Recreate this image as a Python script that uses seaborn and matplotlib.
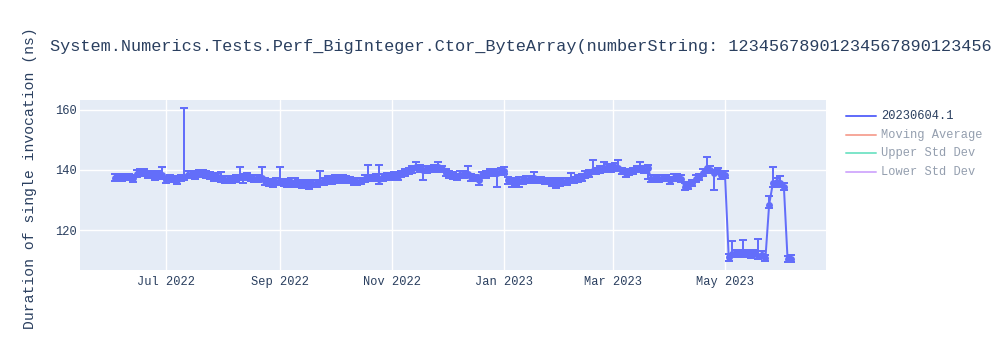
import matplotlib
matplotlib.use("Agg")
import matplotlib.pyplot as plt
import matplotlib.dates as mdates
from matplotlib.lines import Line2D
import numpy as np
import pandas as pd
import seaborn as sns

# ---------------- data ----------------
title = "System.Numerics.Tests.Perf_BigInteger.Ctor_ByteArray(numberString: 12345678901234567890123456"
y_label = "Duration of single invocation (ns)"
series_name = "20230604.1"
legend_labels = ["20230604.1", "Moving Average", "Upper Std Dev", "Lower Std Dev"]
start_date = "2022-06-03"
step = "2D"

values = [
    137.4, 137.6, 137.2, 137.8, 137.5, 137.3, 138.8, 139.2, 139.0, 138.6,
    138.4, 138.0, 138.5, 138.2, 136.8, 137.2, 137.0, 136.5, 137.3, 137.8,
    138.3, 138.5, 138.0, 139.0, 138.8, 138.5, 138.0, 137.5, 137.8, 137.2,
    136.8, 137.0, 136.5, 137.2, 137.7, 137.5, 137.8, 137.4, 137.0, 137.3,
    137.2, 136.3, 135.8, 135.6, 136.0, 136.2, 135.8, 135.5, 136.0, 135.7,
    135.4, 135.2, 135.5, 135.0, 135.3, 135.6, 136.0, 136.3, 136.8, 136.5,
    137.0, 136.8, 137.2, 137.0, 136.6, 136.2, 136.0, 136.4, 137.0, 137.6,
    137.2, 137.5, 137.0, 137.6, 137.8, 137.9, 138.2, 138.0, 138.6, 139.2,
    139.6, 140.2, 141.0, 140.5, 140.0, 140.3, 140.2, 140.6, 141.0, 140.4,
    139.0, 138.5, 138.0, 137.8, 138.3, 138.5, 138.5, 137.5, 137.2, 136.8,
    138.2, 138.6, 139.0, 139.3, 139.0, 139.5, 139.8, 136.5, 136.2, 136.0,
    136.3, 136.5, 136.8, 137.0, 137.2, 136.8, 136.6, 136.4, 136.2, 136.0,
    136.0, 136.0, 136.1, 136.3, 136.5, 136.8, 137.0, 137.5, 138.3, 139.0,
    139.5, 139.8, 140.0, 140.5, 140.8, 140.5, 141.0, 140.8, 139.5, 139.0,
    139.2, 139.8, 140.2, 140.5, 140.0, 140.5, 137.0, 137.3, 137.0, 137.4,
    137.2, 136.8, 137.3, 137.5, 137.0, 134.5, 134.8, 135.8, 137.0, 137.8,
    139.0, 140.5, 140.0, 139.0, 139.5, 138.3, 138.3, 111.0, 112.0, 112.3,
    112.0, 112.5, 112.0, 111.8, 112.2, 111.5, 111.8, 110.8, 128.5, 135.5,
    136.0, 135.5, 134.5, 110.5, 110.5,
]

err_up = [
    1.2, 1.0, 1.2, 1.0, 1.2, 1.0, 1.2, 1.0, 1.2, 1.0,
    1.2, 1.0, 1.2, 2.8, 1.0, 1.2, 1.0, 1.2, 1.0, 22.7,
    1.2, 1.0, 1.2, 1.0, 1.2, 1.0, 1.2, 1.0, 1.2, 2.0,
    1.2, 1.0, 1.2, 1.0, 3.3, 1.0, 1.2, 1.0, 1.2, 1.0,
    3.8, 1.0, 1.2, 1.0, 1.2, 4.8, 1.2, 1.0, 1.2, 1.6,
    1.2, 1.0, 1.2, 1.0, 1.2, 1.0, 3.7, 1.0, 1.2, 1.0,
    1.2, 1.0, 1.2, 1.0, 1.2, 1.0, 1.2, 1.0, 1.2, 4.1,
    1.2, 1.0, 4.7, 1.0, 1.2, 1.0, 1.2, 1.0, 1.2, 1.0,
    1.2, 1.0, 1.8, 1.0, 1.2, 1.0, 1.2, 1.0, 1.5, 1.0,
    1.2, 1.0, 1.2, 1.0, 1.2, 1.0, 2.8, 1.0, 1.2, 1.0,
    1.2, 1.0, 1.2, 1.0, 1.2, 1.0, 1.2, 1.0, 1.2, 1.0,
    1.2, 1.0, 1.2, 1.0, 2.0, 1.0, 1.2, 1.0, 1.2, 1.0,
    1.2, 1.0, 1.2, 1.0, 2.5, 1.0, 1.2, 1.0, 1.2, 1.0,
    3.8, 1.0, 1.2, 2.0, 1.2, 1.0, 1.2, 2.5, 1.2, 1.0,
    1.2, 1.0, 1.2, 2.3, 1.2, 1.0, 1.2, 1.0, 1.2, 1.0,
    1.2, 1.0, 1.2, 1.0, 1.2, 1.0, 1.2, 1.0, 1.2, 1.0,
    1.2, 3.8, 1.2, 1.0, 1.2, 1.0, 1.2, 1.0, 4.5, 1.0,
    1.2, 4.2, 1.2, 1.0, 1.2, 5.5, 1.2, 1.0, 2.7, 5.5,
    1.2, 2.5, 1.2, 1.0, 1.2,
]

err_down = [
    1.0, 1.2, 1.0, 1.2, 1.0, 1.2, 1.0, 1.2, 1.0, 1.2,
    1.0, 1.2, 1.0, 1.2, 1.3, 1.2, 1.0, 1.2, 1.0, 1.2,
    1.0, 1.2, 1.0, 1.2, 1.0, 1.2, 1.0, 1.2, 1.0, 1.2,
    1.0, 1.2, 1.0, 1.2, 1.0, 2.0, 1.0, 1.2, 1.0, 1.2,
    1.0, 1.2, 1.0, 1.2, 1.0, 1.2, 1.0, 1.2, 1.0, 1.2,
    1.0, 1.2, 1.0, 1.2, 1.0, 1.2, 1.0, 1.2, 1.0, 1.2,
    1.0, 1.2, 1.0, 1.2, 1.0, 1.2, 1.0, 1.2, 1.0, 1.2,
    1.0, 1.2, 1.7, 1.2, 1.0, 1.2, 1.0, 1.2, 1.0, 1.2,
    1.0, 1.2, 1.0, 1.2, 3.5, 1.2, 1.0, 1.2, 1.0, 1.2,
    1.0, 1.2, 1.0, 1.2, 1.0, 1.2, 1.0, 1.2, 1.0, 1.8,
    1.0, 1.2, 1.0, 1.2, 4.7, 1.2, 1.0, 1.2, 2.0, 1.2,
    2.0, 1.2, 1.0, 1.2, 1.0, 1.2, 1.0, 1.2, 1.0, 1.2,
    2.0, 1.2, 1.0, 1.2, 1.0, 1.2, 1.0, 1.2, 1.0, 1.2,
    1.0, 1.2, 1.0, 1.2, 1.0, 1.2, 1.0, 1.2, 1.0, 1.2,
    1.0, 1.2, 1.0, 1.2, 1.0, 3.5, 1.0, 1.2, 1.0, 1.2,
    1.0, 1.4, 1.0, 1.2, 1.0, 1.2, 1.0, 1.2, 1.0, 1.2,
    1.0, 1.2, 1.0, 5.7, 1.0, 1.2, 1.0, 1.2, 1.0, 1.2,
    1.0, 1.2, 1.0, 1.2, 1.0, 1.2, 1.0, 1.2, 1.0, 1.2,
    1.0, 1.2, 1.0, 1.2, 1.0,
]

y_ticks = [120, 140, 160]
x_range = ("2022-05-15 05:00", "2023-06-24 22:00")
y_range = (106.67, 163.33)

# ---------------- style ----------------
BLUE = "#636efa"
FONT_COLOR = "#2a3f5f"
sns.set_theme(style="darkgrid", rc={
    "axes.facecolor": "#E5ECF6",
    "grid.color": "white",
    "grid.linewidth": 1.0,
    "figure.facecolor": "white",
})
plt.rcParams["font.family"] = ["Liberation Mono", "DejaVu Sans"]

W, H = 1000, 350
fig = plt.figure(figsize=(W / 100, H / 100), dpi=100)
L, R, T, B = 80, 826, 100, 270
ax = fig.add_axes([L / W, 1 - B / H, (R - L) / W, (B - T) / H])

dates = pd.date_range(start_date, periods=len(values), freq=step)
df = pd.DataFrame({"date": dates, "value": values})

ax.errorbar(df["date"], df["value"], yerr=[err_down, err_up], fmt="none",
            ecolor=BLUE, elinewidth=1.44, capsize=2.9, capthick=1.44, zorder=3)
sns.lineplot(data=df, x="date", y="value", ax=ax, color=BLUE, linewidth=1.44,
             marker="o", markersize=5.0, markeredgewidth=0, zorder=4,
             estimator=None, sort=False, legend=False)

ax.set_xlim(pd.Timestamp(x_range[0]), pd.Timestamp(x_range[1]))
ax.set_ylim(*y_range)
ax.set_yticks(y_ticks)
ax.xaxis.set_major_locator(mdates.MonthLocator(bymonth=[1, 3, 5, 7, 9, 11]))
ax.xaxis.set_major_formatter(mdates.DateFormatter("%b %Y"))
ax.tick_params(axis="both", length=0, labelsize=8.64, labelcolor=FONT_COLOR)
ax.tick_params(axis="y", pad=2)
ax.tick_params(axis="x", pad=4)
for s in ax.spines.values():
    s.set_visible(False)
ax.grid(True, color="white", linewidth=1.0)

ax.set_xlabel("")
ax.set_ylabel(y_label, fontsize=10.6, color=FONT_COLOR)
ax.yaxis.label.set_va("center")
ax.yaxis.set_label_coords((30 - L) / (R - L), (B - 178) / (B - T))

fig.text(50 / W, 1 - 46 / H, title, ha="left", va="center",
         fontsize=12.2, color=FONT_COLOR)

# legend (plotly style, hidden traces faded)
leg_colors = [BLUE, "#EF553B", "#00cc96", "#ab63fa"]
leg_alpha = [1.0, 0.5, 0.5, 0.5]
row_y = [116, 135, 153, 172]
for lab, col, a, py in zip(legend_labels, leg_colors, leg_alpha, row_y):
    fy = 1 - py / H
    fig.add_artist(Line2D([846 / W, 876 / W], [fy, fy], color=col, alpha=a,
                          linewidth=1.44, transform=fig.transFigure))
    fig.text(881 / W, fy, lab, ha="left", va="center", fontsize=8.64,
             color=FONT_COLOR, alpha=a)

fig.savefig("out.png", dpi=100)
